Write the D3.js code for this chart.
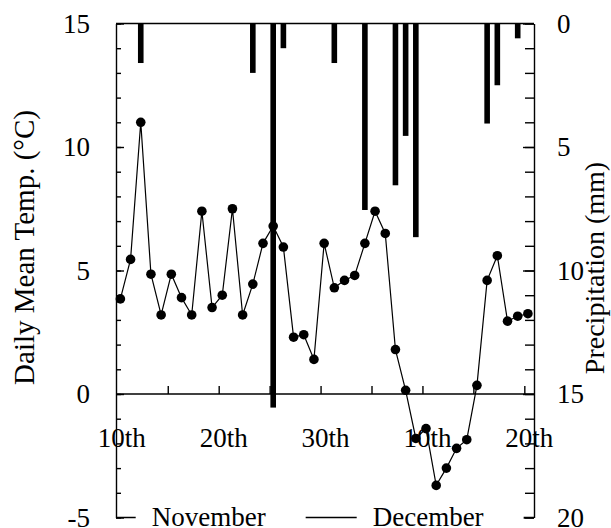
<!DOCTYPE html>
<html lang="en">
<head>
<meta charset="UTF-8">
<title>Daily mean temperature and precipitation</title>
<script src="https://d3js.org/d3.v7.min.js"></script>
<style>
    body { margin: 0; background: #fff; }
    svg { display: block; }
    text { font-family: "Liberation Serif", "Times New Roman", serif; fill: #000; }
    .tick text { font-size: 27px; }
    .domain { stroke: #000; stroke-width: 1.4px; }
    .tick line { stroke: #000; stroke-width: 1.4px; }
</style>
</head>
<body>
<svg id="chart" width="611" height="528"></svg>
<script>
// days counted from 1 November (Dec 1 = 31)
const days = [10, 11, 12, 13, 14, 15, 16, 17, 18, 19, 20, 21, 22, 23, 24, 25, 26, 27, 28, 29, 30,
              31, 32, 33, 34, 35, 36, 37, 38, 39, 40, 41, 42, 43, 44, 45, 46, 47, 48, 49, 50];
const tempMean = [3.85, 5.45, 11.0, 4.85, 3.2, 4.85, 3.9, 3.2, 7.4, 3.5, 4.0, 7.5, 3.2, 4.45, 6.1, 6.8, 5.95, 2.3, 2.4, 1.4, 6.1,
                  4.3, 4.6, 4.8, 6.1, 7.4, 6.5, 1.8, 0.15, -1.8, -1.4, -3.7, -3.0, -2.2, -1.85, 0.35, 4.6, 5.6, 2.95, 3.15, 3.25];
const rainDays = [12, 23, 25, 26, 31, 34, 37, 38, 39, 46, 47, 49];
const rainMm = [1.6, 2.0, 15.55, 1.0, 1.6, 7.55, 6.55, 4.55, 8.65, 4.05, 2.5, 0.6];
const xTickDays = [10, 20, 30, 40, 50];
const xTickLabels = ["10th", "20th", "30th", "10th", "20th"];
const months = ["November", "December"];

const svg = d3.select("#chart");
const plotL = 116, plotR = 534, plotT = 23.5, plotB = 517.5;
const dayOffset = 0.35;

const x = d3.scaleLinear().domain([9.92, 50.95]).range([plotL, plotR]);
const y = d3.scaleLinear().domain([-5, 15]).range([plotB, plotT]);
const y2 = d3.scaleLinear().domain([0, 20]).range([plotT, plotB]);

// precipitation bars hanging from the top
svg.append("g")
    .selectAll("rect")
    .data(rainDays.map((d, i) => ({ day: d, mm: rainMm[i] })))
    .join("rect")
    .attr("x", d => x(d.day + dayOffset) - 2.8)
    .attr("y", y2(0))
    .attr("width", 5.6)
    .attr("height", d => y2(d.mm) - y2(0))
    .attr("fill", "#000");

// left axis: minor and major ticks pointing inward
svg.append("g")
    .attr("transform", `translate(${plotL},0)`)
    .call(d3.axisLeft(y).tickValues(d3.range(-5, 16, 1)).tickSize(-5).tickFormat(""))
    .call(g => g.select(".domain").remove());
svg.append("g")
    .attr("transform", `translate(${plotL},0)`)
    .call(d3.axisLeft(y).tickValues([-5, 0, 5, 10, 15]).tickSizeInner(-8).tickSizeOuter(0)
        .tickPadding(26).tickFormat(d => String(d)))
    .call(g => g.selectAll(".tick text").attr("dy", "0.32em"));

// right axis (precipitation)
svg.append("g")
    .attr("transform", `translate(${plotR},0)`)
    .call(d3.axisRight(y2).tickValues(d3.range(0, 21, 1)).tickSize(-9).tickFormat(""))
    .call(g => g.select(".domain").remove());
svg.append("g")
    .attr("transform", `translate(${plotR},0)`)
    .call(d3.axisRight(y2).tickValues([0, 5, 10, 15, 20]).tickSizeInner(-11).tickSizeOuter(0)
        .tickPadding(23).tickFormat(d => String(d)))
    .call(g => g.selectAll(".tick text").attr("dy", "0.32em"));

// top frame line
svg.append("line")
    .attr("x1", plotL).attr("x2", plotR)
    .attr("y1", plotT).attr("y2", plotT)
    .attr("stroke", "#000").attr("stroke-width", 1.4);

// x axis along zero with ticks upward
svg.append("g")
    .attr("transform", `translate(0,${y(0)})`)
    .call(d3.axisTop(x).tickValues([15, 20, 25, 30, 35, 40, 45, 50]).tickSizeInner(8).tickSizeOuter(0).tickFormat(""))
    .call(g => g.select(".domain").attr("d", `M${plotL},0H${plotR}`));

svg.append("g")
    .selectAll("text")
    .data(xTickDays)
    .join("text")
    .attr("x", d => x(d) + 5)
    .attr("y", y(0) + 53)
    .attr("text-anchor", "middle")
    .attr("font-size", 27)
    .text((d, i) => xTickLabels[i]);

// bottom frame line, partly hidden behind month labels
svg.append("line")
    .attr("x1", plotL).attr("x2", plotR)
    .attr("y1", plotB).attr("y2", plotB)
    .attr("stroke", "#000").attr("stroke-width", 1.4);

const monthX = [151.7, 372.7];
const monthG = svg.append("g");
months.forEach((m, i) => {
    const t = monthG.append("text")
        .attr("x", monthX[i])
        .attr("y", 526)
        .attr("font-size", 27)
        .text(m);
    const bb = t.node().getBBox();
    monthG.insert("rect", "text")
        .attr("x", bb.x - 16)
        .attr("y", plotB - 4)
        .attr("width", bb.width + 56)
        .attr("height", 8)
        .attr("fill", "#fff");
});

// temperature line with markers
const line = d3.line()
    .x((d, i) => x(days[i] + dayOffset))
    .y(d => y(d));

svg.append("path")
    .datum(tempMean)
    .attr("d", line)
    .attr("fill", "none")
    .attr("stroke", "#000")
    .attr("stroke-width", 1.2);

svg.append("g")
    .selectAll("circle")
    .data(tempMean)
    .join("circle")
    .attr("cx", (d, i) => x(days[i] + dayOffset))
    .attr("cy", d => y(d))
    .attr("r", 4.8)
    .attr("fill", "#000");

// axis titles
svg.append("text")
    .attr("transform", `translate(34,${(plotT + plotB) / 2 - 23}) rotate(-90)`)
    .attr("text-anchor", "middle")
    .attr("font-size", 29)
    .text("Daily Mean Temp. (°C)");

svg.append("text")
    .attr("transform", `translate(604,268) rotate(-90)`)
    .attr("text-anchor", "middle")
    .attr("font-size", 28)
    .text("Precipitation (mm)");
</script>
</body>
</html>
